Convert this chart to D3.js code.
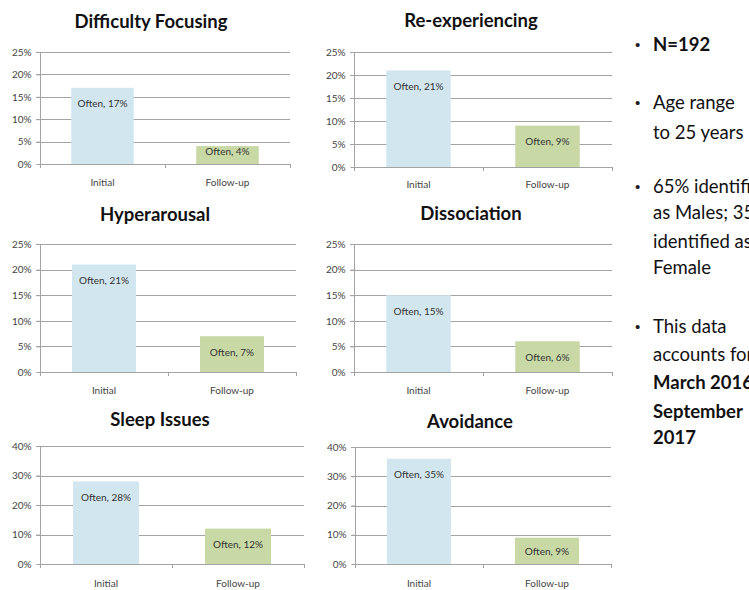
<!DOCTYPE html>
<html>
<head>
<meta charset="utf-8">
<script src="https://cdn.jsdelivr.net/npm/d3@7/dist/d3.min.js"></script>
<style>
  html, body { margin: 0; padding: 0; background: #fff; overflow: hidden; }
  svg { display: block; }
</style>
</head>
<body>
<svg id="chart" width="749" height="590"></svg>
<script>
// ---- data ----
const categories = ["Initial", "Follow-up"];
const chartTitles = ["Difficulty Focusing", "Re-experiencing", "Hyperarousal", "Dissociation", "Sleep Issues", "Avoidance"];
const difficultyFocusing = [17, 4];
const reExperiencing = [21, 9];
const hyperarousal = [21, 7];
const dissociation = [15, 6];
const sleepIssues = [28, 12];
const avoidance = [36, 9];
const labelPercents = [[17, 4], [21, 9], [21, 7], [15, 6], [28, 12], [35, 9]];
const seriesName = "Often";
const ticks25 = [0, 5, 10, 15, 20, 25];
const ticks40 = [0, 10, 20, 30, 40];
const notes = [
  [{t: "N=192", b: true}],
  [{t: "Age range", b: false}, {t: "to 25 years", b: false}],
  [{t: "65% identified", b: false}, {t: "as Males; 35%", b: false}, {t: "identified as", b: false}, {t: "Female", b: false}],
  [{t: "This data", b: false}, {t: "accounts for", b: false}, {t: "March 2016", b: true}, {t: "September", b: true}, {t: "2017", b: true}]
];

const seriesValues = [difficultyFocusing, reExperiencing, hyperarousal, dissociation, sleepIssues, avoidance];
const tickSets = [ticks25, ticks25, ticks25, ticks25, ticks40, ticks40];

// ---- layout (geometry only) ----
const layout = [
  {x0: 40,  x1: 290, y0: 52,  y1: 164, tx: 151, ty: 22,  ly: 182},
  {x0: 354, x1: 612, y0: 52,  y1: 167, tx: 471, ty: 21,  ly: 184},
  {x0: 40,  x1: 296, y0: 244, y1: 372, tx: 155, ty: 215, ly: 390},
  {x0: 354, x1: 612, y0: 244, y1: 372, tx: 471, ty: 214, ly: 390},
  {x0: 40,  x1: 304, y0: 446, y1: 564, tx: 160, ty: 420, ly: 583},
  {x0: 355, x1: 611, y0: 447, y1: 564, tx: 470, ty: 422, ly: 583}
];
const barColors = ["#d2e6ef", "#c8d9a6"];
const gridColor = "#a3a3a3";
const font = "Lato, 'Open Sans', sans-serif";

const svg = d3.select("#chart");

seriesValues.forEach((vals, i) => {
  const L = layout[i];
  const tks = tickSets[i];
  const g = svg.append("g");
  const x = d3.scaleBand().domain(categories).range([L.x0, L.x1])
    .paddingInner(0.5).paddingOuter(0.25);
  const y = d3.scaleLinear().domain([0, d3.max(tks)]).range([L.y1, L.y0]);

  // title
  g.append("text").attr("x", L.tx).attr("y", L.ty).attr("dy", "0.35em")
    .attr("text-anchor", "middle").attr("font-family", font)
    .attr("font-weight", "bold").attr("font-size", 18.5).attr("fill", "#111")
    .text(chartTitles[i]);

  // gridlines
  g.append("g").selectAll("line").data(tks.filter(d => d > 0)).join("line")
    .attr("x1", L.x0 - 4).attr("x2", L.x1)
    .attr("y1", d => Math.round(y(d)) + 0.5).attr("y2", d => Math.round(y(d)) + 0.5)
    .attr("stroke", gridColor).attr("stroke-width", 1);

  // y axis
  const ya = g.append("g").attr("transform", `translate(${L.x0 + 0.5},0)`)
    .call(d3.axisLeft(y).tickValues(tks).tickFormat(d => d + "%").tickSize(4).tickPadding(5));
  ya.select(".domain").attr("stroke", gridColor).attr("d", `M0,${L.y0}V${L.y1}`);
  ya.selectAll(".tick line").attr("stroke", gridColor);
  ya.selectAll(".tick text").attr("font-family", font).attr("font-size", 10).attr("fill", "#444");

  // bars
  g.append("g").selectAll("rect").data(vals).join("rect")
    .attr("x", (d, j) => x(categories[j]))
    .attr("width", x.bandwidth())
    .attr("y", d => y(d))
    .attr("height", d => y(0) - y(d))
    .attr("fill", (d, j) => barColors[j]);

  // data labels
  g.append("g").selectAll("text").data(vals).join("text")
    .attr("x", (d, j) => x(categories[j]) + x.bandwidth() / 2)
    .attr("y", d => Math.min(y(d) + 16, y(0) - 13))
    .attr("dy", "0.35em").attr("text-anchor", "middle")
    .attr("font-family", font).attr("font-size", 10).attr("fill", "#333")
    .text((d, j) => `${seriesName}, ${labelPercents[i][j]}%`);

  // x axis
  const xa = g.append("g");
  xa.append("line").attr("x1", L.x0).attr("x2", L.x1)
    .attr("y1", Math.round(y(0)) + 0.5).attr("y2", Math.round(y(0)) + 0.5)
    .attr("stroke", gridColor);
  const edges = [L.x0, (L.x0 + L.x1) / 2, L.x1];
  xa.selectAll("line.tk").data(edges).join("line").attr("class", "tk")
    .attr("x1", d => Math.round(d) + 0.5).attr("x2", d => Math.round(d) + 0.5)
    .attr("y1", Math.round(y(0))).attr("y2", Math.round(y(0)) + 4)
    .attr("stroke", gridColor);
  xa.selectAll("text").data(categories).join("text")
    .attr("x", d => x(d) + x.bandwidth() / 2).attr("y", L.ly).attr("dy", "0.35em")
    .attr("text-anchor", "middle").attr("font-family", font).attr("font-size", 10)
    .attr("fill", "#444").text(d => d);
});

// ---- notes block ----
const noteLineY = [[45], [103, 133], [187, 213, 242, 268], [327, 355, 383, 412, 438]];
const ng = svg.append("g");
notes.forEach((block, bi) => {
  ng.append("text").attr("x", 635).attr("y", noteLineY[bi][0]).attr("dy", "0.35em")
    .attr("font-family", "Arial, sans-serif").attr("font-size", 15).attr("fill", "#222")
    .text("•");
  block.forEach((ln, li) => {
    ng.append("text").attr("x", 653).attr("y", noteLineY[bi][li]).attr("dy", "0.35em")
      .attr("font-family", font).attr("font-size", 18.5)
      .attr("font-weight", ln.b ? "bold" : "normal").attr("fill", "#111")
      .text(ln.t);
  });
});
</script>
</body>
</html>
